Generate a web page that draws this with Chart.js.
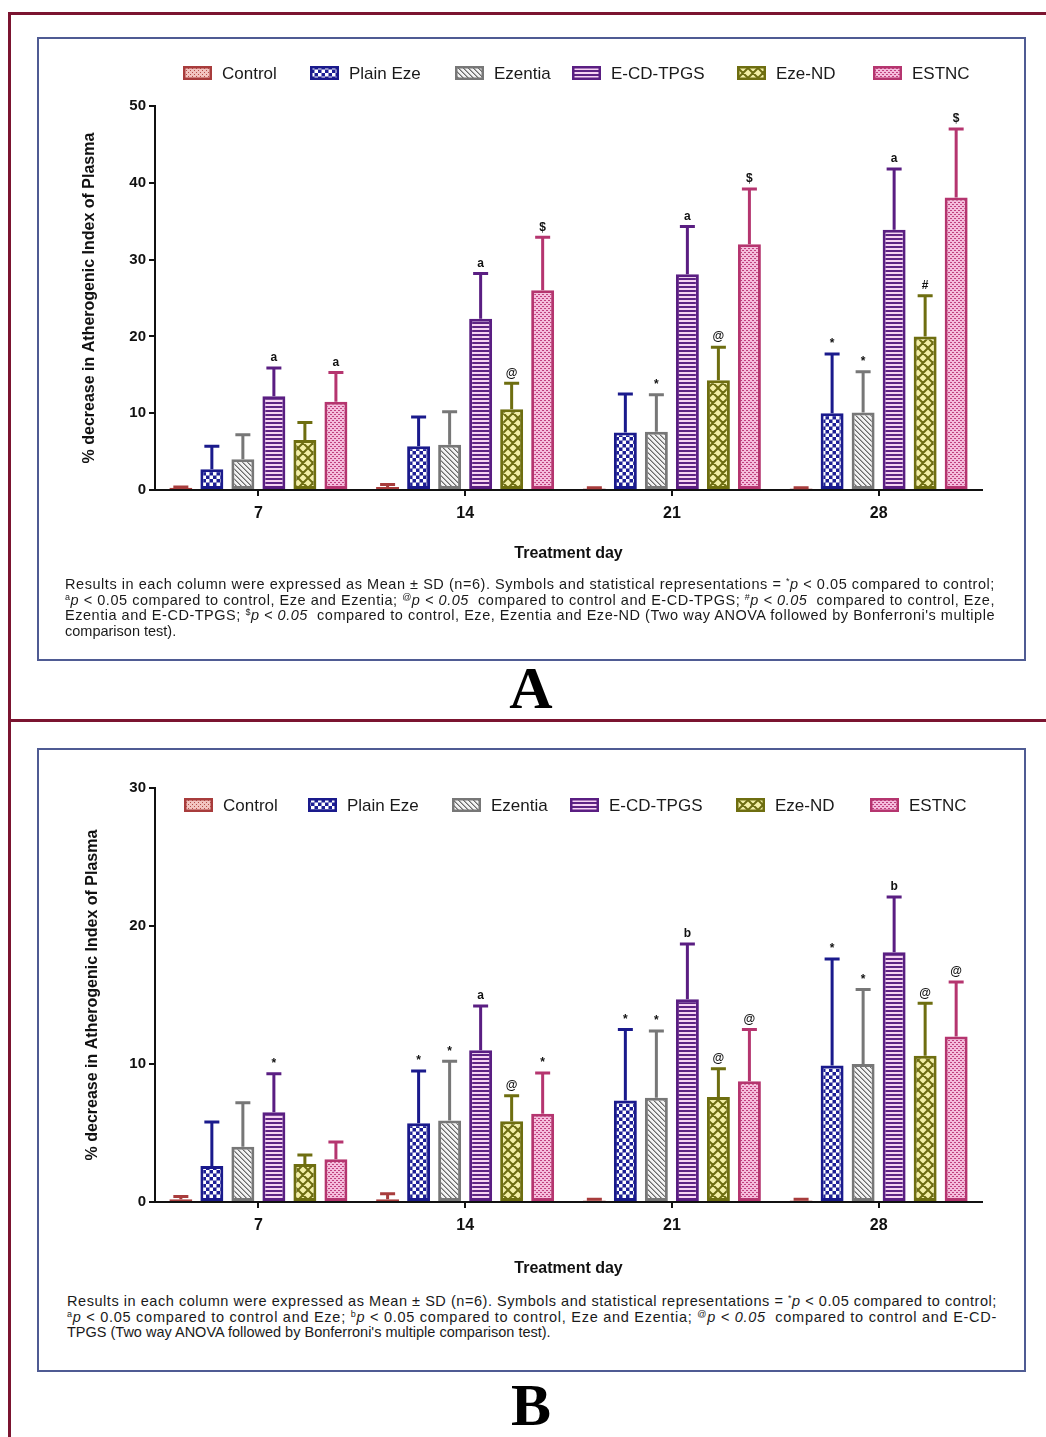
<!DOCTYPE html>
<html>
<head>
<meta charset="utf-8">
<script src="https://cdn.jsdelivr.net/npm/chart.js@4.4.1/dist/chart.umd.min.js"></script>
<style>
  body { margin: 0; background: #fff; }
  #page { position: relative; width: 1046px; height: 1437px; overflow: hidden; font-family: "Liberation Sans", Arial, sans-serif; }
  .frame { position: absolute; background: #7b1430; }
  .panel { position: absolute; box-sizing: border-box; border: 2px solid #4f5b93; }
  canvas { position: absolute; }
  .caption { position: absolute; width: 930px; font-size: 14.5px; line-height: 15.7px; color: #1a1a1a; }
  .caption div { white-space: nowrap; }
  .caption span { display: inline-block; }
  .caption sup { font-size: 9px; vertical-align: 5px; line-height: 0; }
  .label { position: absolute; left: 0; width: 1062px; text-align: center; font-family: "Liberation Serif", "Times New Roman", serif; font-weight: bold; font-size: 60px; line-height: 60px; color: #000; }
</style>
</head>
<body>
<div id="page">
  <div class="frame" style="left:8px; top:12px; width:1038px; height:3px;"></div>
  <div class="frame" style="left:8px; top:12px; width:3px; height:1425px;"></div>
  <div class="frame" style="left:8px; top:719px; width:1038px; height:3px;"></div>

  <div class="panel" style="left:37px; top:37px; width:989px; height:624px;"></div>
  <canvas id="chartA" width="986" height="540" style="left:38px; top:38px;"></canvas>
  <div class="caption" style="left:65px; top:577px;">
    <div><span class="fit">Results in each column were expressed as Mean ± SD (n=6). Symbols and statistical representations = <sup>*</sup><i>p</i> &lt; 0.05 compared to control;</span></div>
    <div><span class="fit"><sup>a</sup><i>p</i> &lt; 0.05 compared to control, Eze and Ezentia; <sup>@</sup><i>p &lt; 0.05</i>&nbsp; compared to control and E-CD-TPGS; <sup>#</sup><i>p &lt; 0.05</i>&nbsp; compared to control, Eze,</span></div>
    <div><span class="fit">Ezentia and E-CD-TPGS; <sup>$</sup><i>p &lt; 0.05</i>&nbsp; compared to control, Eze, Ezentia and Eze-ND (Two way ANOVA followed by Bonferroni's multiple</span></div>
    <div><span>comparison test).</span></div>
  </div>
  <div class="label" style="top:658px;">A</div>

  <div class="panel" style="left:37px; top:748px; width:989px; height:624px;"></div>
  <canvas id="chartB" width="986" height="540" style="left:38px; top:750px;"></canvas>
  <div class="caption" style="left:67px; top:1294px;">
    <div><span class="fit">Results in each column were expressed as Mean ± SD (n=6). Symbols and statistical representations = <sup>*</sup><i>p</i> &lt; 0.05 compared to control;</span></div>
    <div><span class="fit"><sup>a</sup><i>p</i> &lt; 0.05 compared to control and Eze; <sup>b</sup><i>p</i> &lt; 0.05 compared to control, Eze and Ezentia; <sup>@</sup><i>p &lt; 0.05</i>&nbsp; compared to control and E-CD-</span></div>
    <div><span>TPGS (Two way ANOVA followed by Bonferroni's multiple comparison test).</span></div>
  </div>
  <div class="label" style="top:1375px;">B</div>
</div>

<script>
// ---- data ----
const days = ['7', '14', '21', '28'];
const groupNames = ['Control', 'Plain Eze', 'Ezentia', 'E-CD-TPGS', 'Eze-ND', 'ESTNC'];

// panel A: mean and SD per group
const controlA = [0.3, 0.4, 0.2, 0.2];
const plainEzeA = [2.7, 5.7, 7.5, 10.0];
const ezentiaA = [4.0, 5.9, 7.6, 10.1];
const ecdTpgsA = [12.2, 22.3, 28.1, 33.9];
const ezeNdA = [6.5, 10.5, 14.3, 20.0];
const estncA = [11.5, 26.0, 32.0, 38.1];

const controlSdA = [0.1, 0.3, 0.1, 0.1];
const plainEzeSdA = [3.0, 3.8, 5.0, 7.7];
const ezentiaSdA = [3.2, 4.3, 4.8, 5.3];
const ecdTpgsSdA = [3.7, 5.9, 6.2, 7.9];
const ezeNdSdA = [2.3, 3.4, 4.3, 5.3];
const estncSdA = [3.8, 6.9, 7.2, 8.9];

const controlSigA = ['', '', '', ''];
const plainEzeSigA = ['', '', '', '*'];
const ezentiaSigA = ['', '', '*', '*'];
const ecdTpgsSigA = ['a', 'a', 'a', 'a'];
const ezeNdSigA = ['', '@', '@', '#'];
const estncSigA = ['a', '$', '$', '$'];

// panel B
const controlB = [0.2, 0.2, 0.1, 0.1];
const plainEzeB = [2.6, 5.7, 7.35, 9.9];
const ezentiaB = [4.0, 5.9, 7.55, 10.0];
const ecdTpgsB = [6.5, 11.0, 14.7, 18.1];
const ezeNdB = [2.75, 5.85, 7.6, 10.6];
const estncB = [3.1, 6.4, 8.75, 12.0];

const controlSdB = [0.2, 0.4, 0.1, 0.1];
const plainEzeSdB = [3.2, 3.8, 5.15, 7.7];
const ezentiaSdB = [3.2, 4.3, 4.85, 5.4];
const ecdTpgsSdB = [2.8, 3.2, 4.0, 4.0];
const ezeNdSdB = [0.65, 1.85, 2.05, 3.8];
const estncSdB = [1.25, 2.95, 3.75, 3.95];

const controlSigB = ['', '', '', ''];
const plainEzeSigB = ['', '*', '*', '*'];
const ezentiaSigB = ['', '*', '*', '*'];
const ecdTpgsSigB = ['*', 'a', 'b', 'b'];
const ezeNdSigB = ['', '@', '@', '@'];
const estncSigB = ['', '*', '@', '@'];

// ---- captions: squeeze/stretch each full line to the box width ----
document.querySelectorAll('.caption .fit').forEach(span => {
    const text = span.textContent;
    const w = span.getBoundingClientRect().width;
    span.style.letterSpacing = ((930 - w) / text.length).toFixed(3) + 'px';
});

// ---- styles ----
const FONT = '"Liberation Sans", Arial, sans-serif';

function pattern(w, h, paint) {
    const c = document.createElement('canvas');
    c.width = w;
    c.height = h;
    const g = c.getContext('2d');
    paint(g, w, h);
    return g.createPattern(c, 'repeat');
}

const fills = [
    // control: fine red dots on pink
    pattern(4, 4, g => {
        g.fillStyle = '#f2c4c0'; g.fillRect(0, 0, 4, 4);
        g.fillStyle = '#b54e48'; g.fillRect(0, 0, 1, 1); g.fillRect(2, 2, 1, 1);
    }),
    // plain eze: navy checker
    pattern(7, 7, g => {
        g.fillStyle = '#1d1f95'; g.fillRect(0, 0, 7, 7);
        g.fillStyle = '#ffffff'; g.fillRect(0, 0, 3.5, 3.5); g.fillRect(3.5, 3.5, 3.5, 3.5);
    }),
    // ezentia: gray diagonal hatch
    pattern(5, 5, g => {
        g.fillStyle = '#f2f2f2'; g.fillRect(0, 0, 5, 5);
        g.fillStyle = '#6b6b6b';
        for (let i = 0; i < 5; i++) g.fillRect(i, i, 1, 1);
        g.fillStyle = '#a8a8a8';
        for (let i = 0; i < 5; i++) g.fillRect((i + 1) % 5, i, 1, 1);
    }),
    // e-cd-tpgs: purple horizontal stripes
    pattern(4, 4, g => {
        g.fillStyle = '#f7d4f2'; g.fillRect(0, 0, 4, 4);
        g.fillStyle = '#5e2384'; g.fillRect(0, 0, 4, 2);
    }),
    // eze-nd: olive cross hatch on pale yellow
    pattern(10, 10, g => {
        g.fillStyle = '#f3efa6'; g.fillRect(0, 0, 10, 10);
        g.strokeStyle = '#6d6d12'; g.lineWidth = 2;
        g.beginPath();
        for (const o of [-10, 0, 10]) {
            g.moveTo(o, 0); g.lineTo(o + 10, 10);
            g.moveTo(o + 10, 0); g.lineTo(o, 10);
        }
        g.stroke();
    }),
    // estnc: magenta dots on pink
    pattern(4, 4, g => {
        g.fillStyle = '#f5bcdc'; g.fillRect(0, 0, 4, 4);
        g.fillStyle = '#c0407e'; g.fillRect(0, 0, 2, 1); g.fillRect(2, 2, 2, 1);
    })
];
const borders = ['#a83c3c', '#1a1a8c', '#777777', '#5a1e82', '#6e6e10', '#b5356f'];

// ---- plugins ----
const patternLegend = {
    id: 'patternLegend',
    afterDraw(chart, args, opts) {
        const ctx = chart.ctx;
        ctx.save();
        ctx.font = '17px ' + FONT;
        ctx.textBaseline = 'middle';
        chart.data.datasets.forEach((ds, i) => {
            const x = opts.xs[i];
            ctx.fillStyle = ds.backgroundColor;
            ctx.fillRect(x, opts.y - 7, 29, 14);
            ctx.strokeStyle = ds.borderColor;
            ctx.lineWidth = 2.5;
            ctx.strokeRect(x + 1.25, opts.y - 5.75, 26.5, 11.5);
            ctx.fillStyle = '#1a1a1a';
            ctx.fillText(ds.label, x + 39, opts.y + 1);
        });
        ctx.restore();
    }
};

// +SD whiskers and significance marks
const errorBars = {
    id: 'errorBars',
    afterDatasetsDraw(chart) {
        const ctx = chart.ctx;
        const y = chart.scales.y;
        ctx.save();
        chart.data.datasets.forEach((ds, i) => {
            chart.getDatasetMeta(i).data.forEach((bar, j) => {
                const top = y.getPixelForValue(ds.data[j] + ds.sd[j]);
                ctx.strokeStyle = ds.borderColor;
                ctx.lineWidth = 3;
                ctx.beginPath();
                ctx.moveTo(bar.x, bar.y);
                ctx.lineTo(bar.x, top);
                ctx.moveTo(bar.x - 7.5, top);
                ctx.lineTo(bar.x + 7.5, top);
                ctx.stroke();
                if (ds.sig[j]) {
                    ctx.fillStyle = '#111';
                    ctx.font = 'bold 12px ' + FONT;
                    ctx.textAlign = 'center';
                    ctx.textBaseline = 'bottom';
                    ctx.fillText(ds.sig[j], bar.x, top - 4);
                }
            });
        });
        ctx.restore();
    }
};

function buildDatasets(values, sds, sigs) {
    return groupNames.map((name, k) => ({
        label: name,
        data: values[k],
        sd: sds[k],
        sig: sigs[k],
        backgroundColor: fills[k],
        borderColor: borders[k],
        borderWidth: 3,
        borderSkipped: false,
        categoryPercentage: 0.9,
        barPercentage: 0.74
    }));
}

function drawPanel(id, datasets, cfg) {
    return new Chart(document.getElementById(id), {
        type: 'bar',
        data: { labels: days, datasets },
        options: {
            responsive: false,
            animation: false,
            events: [],
            layout: { padding: { top: cfg.top, right: 42, left: 0, bottom: 0 } },
            plugins: {
                legend: { display: false },
                tooltip: { enabled: false },
                patternLegend: { xs: cfg.legendX, y: cfg.legendY }
            },
            scales: {
                x: {
                    grid: { drawOnChartArea: false, offset: false, tickLength: 6, color: '#111', lineWidth: 2 },
                    border: { color: '#111', width: 2 },
                    ticks: { color: '#111', padding: 8, font: { family: FONT, size: 16, weight: 'bold' } },
                    title: {
                        display: true, text: 'Treatment day', color: '#111',
                        font: { family: FONT, size: 16, weight: 'bold' },
                        padding: { top: 0, bottom: cfg.xTitlePad }
                    },
                    afterFit: s => { s.height = 88; }
                },
                y: {
                    min: 0,
                    max: cfg.max,
                    grid: { drawOnChartArea: false, tickLength: 6, color: '#111', lineWidth: 2 },
                    border: { color: '#111', width: 2 },
                    ticks: { stepSize: 10, color: '#111', padding: 3, font: { family: FONT, size: 15, weight: 'bold' } },
                    title: {
                        display: true, text: '% decrease in Atherogenic Index of Plasma', color: '#111',
                        font: { family: FONT, size: 16, weight: 'bold' },
                        padding: { top: cfg.yTitlePad, bottom: 0 }
                    },
                    afterFit: s => { s.width = 117; }
                }
            }
        },
        plugins: [patternLegend, errorBars]
    });
}

drawPanel('chartA',
    buildDatasets(
        [controlA, plainEzeA, ezentiaA, ecdTpgsA, ezeNdA, estncA],
        [controlSdA, plainEzeSdA, ezentiaSdA, ecdTpgsSdA, ezeNdSdA, estncSdA],
        [controlSigA, plainEzeSigA, ezentiaSigA, ecdTpgsSigA, ezeNdSigA, estncSigA]),
    { top: 68, max: 50, legendX: [145, 272, 417, 534, 699, 835], legendY: 35, xTitlePad: 15, yTitlePad: 42 });

drawPanel('chartB',
    buildDatasets(
        [controlB, plainEzeB, ezentiaB, ecdTpgsB, ezeNdB, estncB],
        [controlSdB, plainEzeSdB, ezentiaSdB, ecdTpgsSdB, ezeNdSdB, estncSdB],
        [controlSigB, plainEzeSigB, ezentiaSigB, ecdTpgsSigB, ezeNdSigB, estncSigB]),
    { top: 38, max: 30, legendX: [146, 270, 414, 532, 698, 832], legendY: 55, xTitlePad: 12, yTitlePad: 45 });
</script>
</body>
</html>
